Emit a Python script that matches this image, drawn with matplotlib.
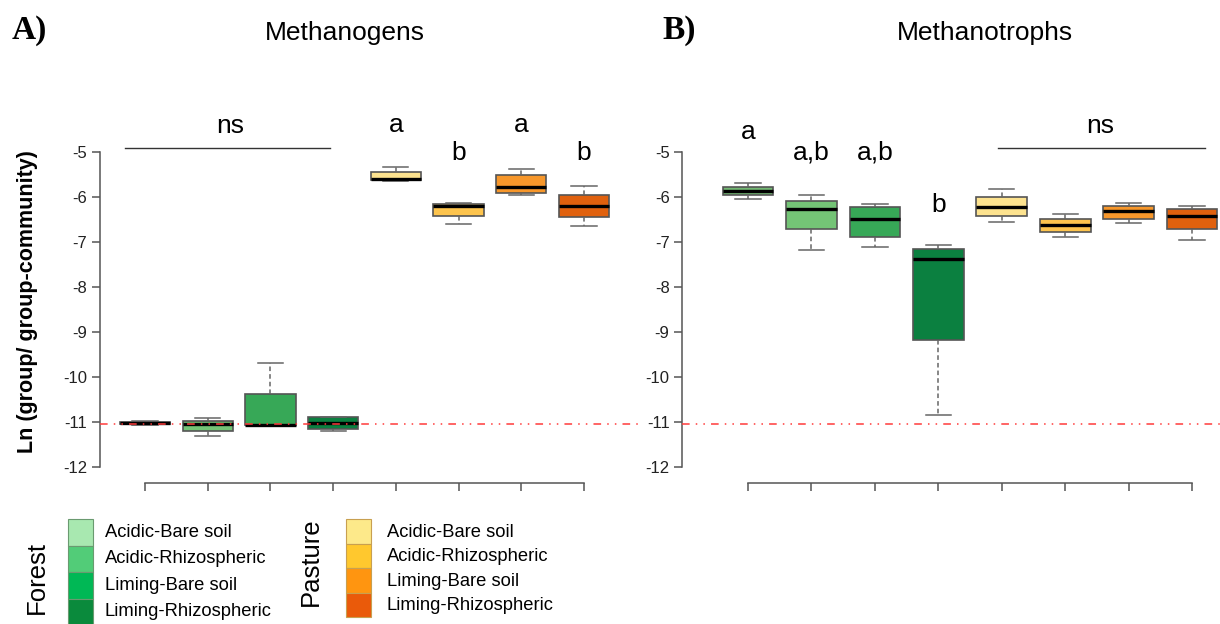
import matplotlib.pyplot as plt
from matplotlib.patches import Rectangle

plt.rcParams["font.family"] = ["Liberation Sans", "DejaVu Sans"]
plt.rcParams["axes.unicode_minus"] = False

# ---------------- data ----------------
groups = ["Acidic-Bare soil", "Acidic-Rhizospheric", "Liming-Bare soil", "Liming-Rhizospheric"]
box_colors = ["#74b874", "#74c476", "#37a857", "#0b8040",
              "#fde38f", "#fdc44d", "#f7972b", "#e0610e"]
forest_legend = ["#a8e8b0", "#52cc78", "#00b855", "#0a8a3c"]
pasture_legend = ["#fde98a", "#ffc82e", "#ff9510", "#ea5a0a"]

# (whislo, q1, median, q3, whishi) for each box
methanogens = [
    (-11.07, -11.05, -11.02, -10.99, -10.97),
    (-11.31, -11.20, -11.04, -10.97, -10.92),
    (-11.09, -11.07, -11.06, -10.38, -9.70),
    (-11.19, -11.15, -11.02, -10.90, -10.88),
    (-5.64, -5.63, -5.60, -5.45, -5.33),
    (-6.60, -6.42, -6.20, -6.16, -6.13),
    (-5.96, -5.91, -5.78, -5.51, -5.38),
    (-6.64, -6.44, -6.20, -5.96, -5.76),
]
methanotrophs = [
    (-6.04, -5.96, -5.86, -5.78, -5.69),
    (-7.18, -6.71, -6.27, -6.09, -5.96),
    (-7.11, -6.89, -6.49, -6.22, -6.16),
    (-10.84, -9.18, -7.38, -7.16, -7.07),
    (-6.56, -6.42, -6.22, -6.00, -5.82),
    (-6.89, -6.78, -6.62, -6.49, -6.38),
    (-6.58, -6.49, -6.31, -6.20, -6.13),
    (-6.96, -6.71, -6.42, -6.27, -6.20),
]
detection_limit = -11.05

# significance letters: (x position, y, text)
letters_a = [(5, -4.40, "a"), (6, -5.02, "b"), (7, -4.40, "a"), (8, -5.02, "b")]
letters_b = [(1, -4.56, "a"), (2, -5.02, "a,b"), (3, -5.02, "a,b"), (4, -6.18, "b")]
ns_a = (0.68, 3.95, 2.36)   # line start, line end, label x
ns_b = (4.94, 8.21, 6.55)

W, H = 1220, 624
fig = plt.figure(figsize=(W / 100, H / 100), dpi=100)


def px_axes(x0, y0, x1, y1):
    return fig.add_axes([x0 / W, 1 - y1 / H, (x1 - x0) / W, (y1 - y0) / H])


def draw_panel(ax, data, letters, ns, xlim):
    stats = [dict(whislo=d[0], q1=d[1], med=d[2], q3=d[3], whishi=d[4], fliers=[])
             for d in data]
    bp = ax.bxp(stats, positions=range(1, 9), widths=0.8, patch_artist=True,
                showfliers=False,
                boxprops=dict(edgecolor="#555555", linewidth=1.2),
                medianprops=dict(color="black", linewidth=2.4),
                whiskerprops=dict(color="#666666", linewidth=1.1, linestyle=(0, (3, 2))),
                capprops=dict(color="#666666", linewidth=1.1))
    for patch, c in zip(bp["boxes"], box_colors):
        patch.set_facecolor(c)
    ax.axhline(detection_limit, color="#ff3b3b", linewidth=1.1,
               linestyle=(0, (5, 4, 1, 4, 1, 4)), zorder=5)
    ax.set_xlim(*xlim)
    ax.set_ylim(-12.356, -3.844)
    for s in ["top", "right"]:
        ax.spines[s].set_visible(False)
    for s in ["left", "bottom"]:
        ax.spines[s].set_color("#555555")
        ax.spines[s].set_linewidth(1.1)
    ax.spines["left"].set_bounds(-12, -5)
    ax.spines["bottom"].set_bounds(1, 8)
    ax.set_yticks(range(-12, -4))
    ax.set_xticks(range(1, 9))
    ax.set_xticklabels([])
    ax.tick_params(axis="both", direction="out", length=6, width=1.1,
                   color="#555555", labelsize=12, labelcolor="#222222", pad=3)
    for x, y, t in letters:
        ax.text(x, y, t, ha="center", va="center", fontsize=19, clip_on=False)
    ax.plot([ns[0], ns[1]], [-4.91, -4.91], color="#333333", linewidth=1.0,
            clip_on=False)
    ax.text(ns[2], -4.42, "ns", ha="center", va="center", fontsize=19)


ax1 = px_axes(100, 100, 640, 483)
draw_panel(ax1, methanogens, letters_a, ns_a, (0.282, 8.893))
ax2 = px_axes(682, 100, 1220, 483)
draw_panel(ax2, methanotrophs, letters_b, ns_b, (-0.041, 8.44))

fig.text(345 / W, 1 - 33 / H, "Methanogens", ha="center", va="center", fontsize=19)
fig.text(985 / W, 1 - 33 / H, "Methanotrophs", ha="center", va="center", fontsize=19)
fig.text(12 / W, 1 - 30 / H, "A)", ha="left", va="center", fontsize=24,
         fontweight="bold", family="Liberation Serif")
fig.text(662 / W, 1 - 30 / H, "B)", ha="left", va="center", fontsize=24,
         fontweight="bold", family="Liberation Serif")
fig.text(28 / W, 1 - 302 / H, "Ln (group/ group-community)", rotation=90,
         ha="center", va="center", fontsize=15.5, fontweight="bold")

# legend drawn in pixel coordinates
lg = fig.add_axes([0, 0, 1, 1], zorder=-1)
lg.set_xlim(0, W)
lg.set_ylim(H, 0)
lg.axis("off")
fh = 26.5
for i, (c, lab) in enumerate(zip(forest_legend, groups)):
    y0 = 519 + i * fh
    lg.add_patch(Rectangle((68, y0), 25, fh, facecolor=c, edgecolor="#6a9a70", lw=0.8))
    lg.text(105, y0 + fh / 2, lab, ha="left", va="center", fontsize=13.2)
ph = 24.5
for i, (c, lab) in enumerate(zip(pasture_legend, groups)):
    y0 = 519 + i * ph
    lg.add_patch(Rectangle((346, y0), 25, ph, facecolor=c, edgecolor="#c8a050", lw=0.8))
    lg.text(387, y0 + ph / 2 + 1, lab, ha="left", va="center", fontsize=13.2)
lg.text(37, 577, "Forest", rotation=90, ha="center", va="center", fontsize=18.5)
lg.text(311, 562, "Pasture", rotation=90, ha="center", va="center", fontsize=18.5)

fig.savefig("out.png", dpi=100)
